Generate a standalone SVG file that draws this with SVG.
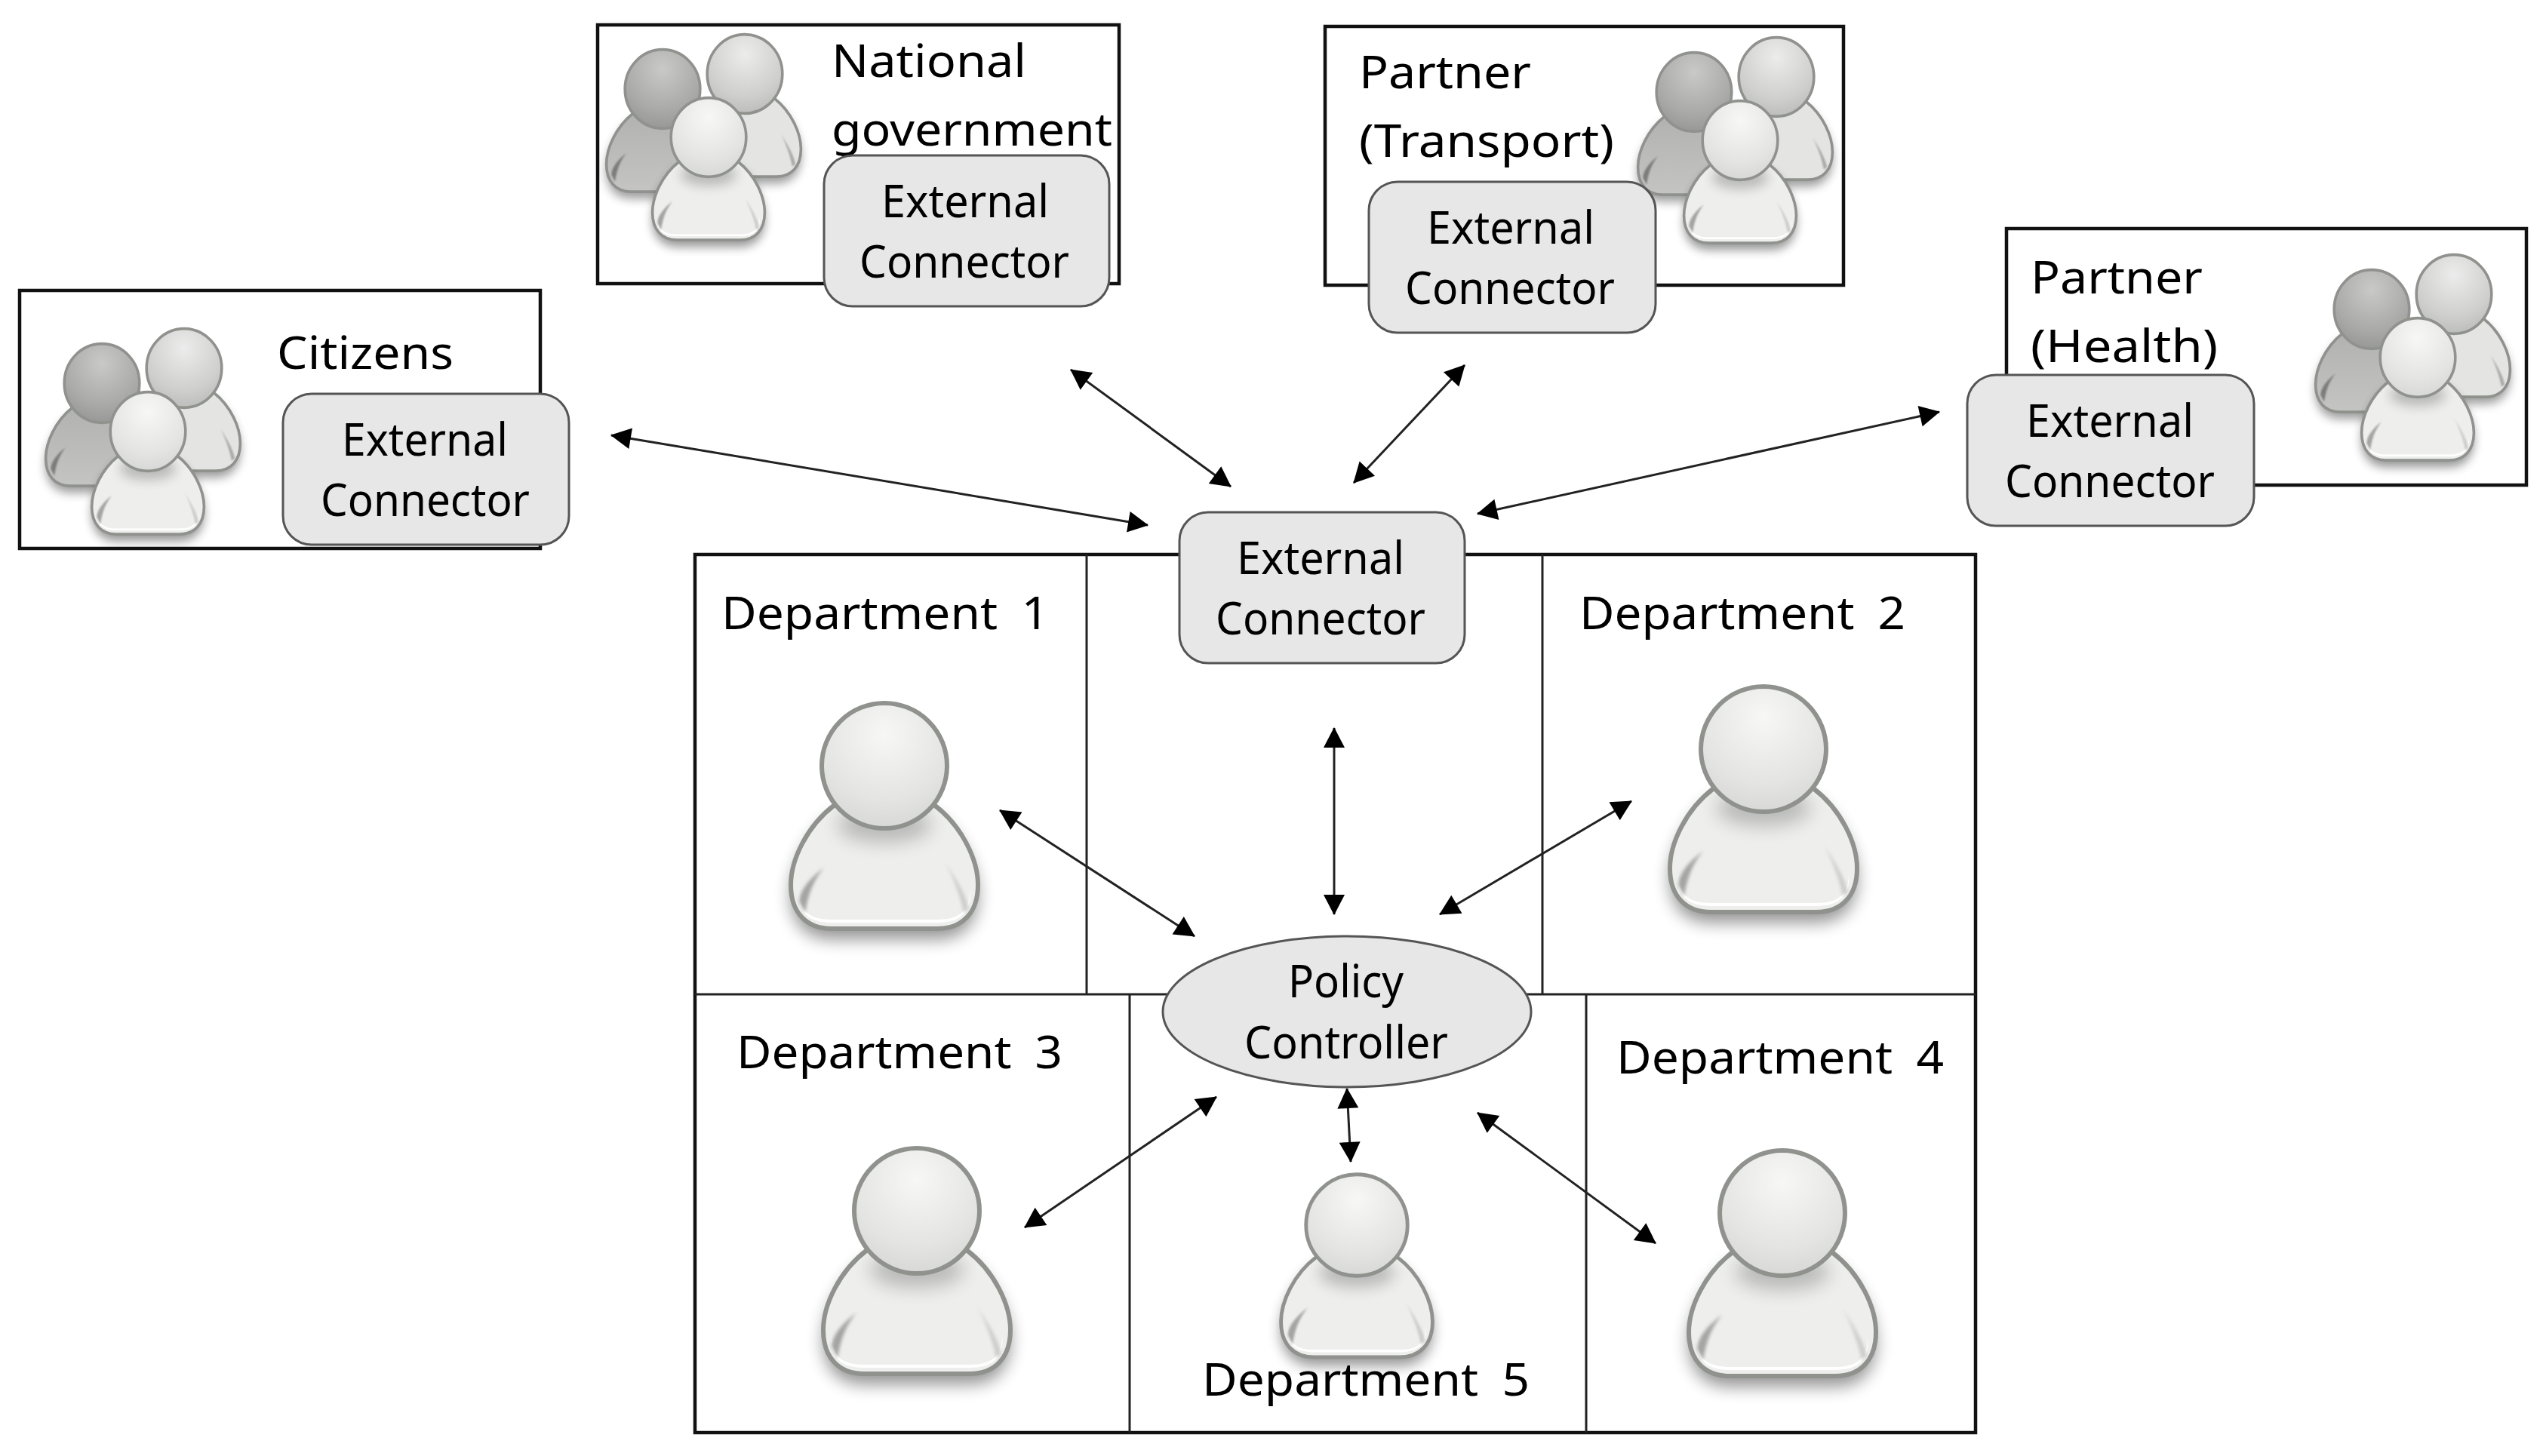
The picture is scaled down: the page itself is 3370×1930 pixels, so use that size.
<svg xmlns="http://www.w3.org/2000/svg" xmlns:xlink="http://www.w3.org/1999/xlink" width="3370" height="1930" viewBox="0 0 3370 1930">
<style>
text{font-family:"Noto Sans","Open Sans","Liberation Sans",sans-serif;fill:#000;font-size:61px}
.dept{word-spacing:14px}
.frame{fill:#fff;stroke:#111;stroke-width:4.5}
.part{fill:none;stroke:#222;stroke-width:3}
.conn{fill:#e7e7e7;stroke:#555;stroke-width:3}
.arrow{fill:none;stroke:#222;stroke-width:3;marker-start:url(#tip);marker-end:url(#tip)}
</style>
<defs>
<marker id="tip" markerUnits="userSpaceOnUse" markerWidth="30" markerHeight="30" viewBox="0 0 30 30" refX="27" refY="15" orient="auto-start-reverse"><path d="M1 1L28 15L1 29Z" fill="#000"/></marker>
<filter id="soft" x="-30%" y="-30%" width="160%" height="160%"><feGaussianBlur stdDeviation="11"/></filter>
<filter id="soft2" x="-40%" y="-80%" width="180%" height="260%"><feGaussianBlur stdDeviation="12"/></filter>
<filter id="soft3" x="-60%" y="-30%" width="220%" height="160%"><feGaussianBlur stdDeviation="2"/></filter>
<radialGradient id="hl" cx=".5" cy=".25" r=".75"><stop offset="0" stop-color="#f7f7f6"/><stop offset=".7" stop-color="#e4e5e2"/><stop offset="1" stop-color="#d8d9d6"/></radialGradient>
<radialGradient id="hm" cx=".5" cy=".25" r=".75"><stop offset="0" stop-color="#ececec"/><stop offset=".7" stop-color="#cfcfcd"/><stop offset="1" stop-color="#bdbebb"/></radialGradient>
<radialGradient id="hd" cx=".5" cy=".25" r=".75"><stop offset="0" stop-color="#c9c9c8"/><stop offset=".7" stop-color="#a9a9a7"/><stop offset="1" stop-color="#989896"/></radialGradient>
<linearGradient id="bd" x1="0" y1="0" x2="0" y2="1"><stop offset="0" stop-color="#b2b2b0"/><stop offset="1" stop-color="#c4c4c2"/></linearGradient>
<path id="bodyShape" d="M-66 52C-103 80-124 125-124 158C-124 195-103 216-70 216L70 216C103 216 124 195 124 158C124 125 103 80 66 52Z"/>
<g id="person">
<use href="#bodyShape" transform="translate(0 14)" fill="#000" opacity=".42" filter="url(#soft)"/>
<use href="#bodyShape" fill="#eeefed" stroke="#90928e" stroke-width="6"/>
<path d="M-113 165C-116 195-100 208-70 208L70 208C100 208 116 195 113 165C113 192 100 204 70 204L-70 204C-100 204-113 192-113 165Z" fill="#fff"/>
<path d="M-80 135C-100 150-112 165-113 180L-105 195C-100 165-92 150-80 135Z" fill="#a4a5a2" filter="url(#soft3)"/>
<path d="M80 127C95 150 108 170 112 190L105 195C100 170 90 145 80 127Z" fill="#cdcecb" filter="url(#soft3)"/>
<ellipse cx="0" cy="78" rx="62" ry="24" fill="#000" opacity=".22" filter="url(#soft2)"/>
<circle r="83" fill="url(#hl)" stroke="#90928e" stroke-width="6"/>
</g>
<g id="person-mid">
<use href="#bodyShape" transform="translate(0 14)" fill="#000" opacity=".4" filter="url(#soft)"/>
<use href="#bodyShape" fill="#e4e5e2" stroke="#90928e" stroke-width="6"/>
<path d="M80 127C95 150 108 170 112 190L105 195C100 170 90 145 80 127Z" fill="#a9aaa7" filter="url(#soft3)"/>
<circle r="83" fill="url(#hm)" stroke="#90928e" stroke-width="6"/>
</g>
<g id="person-dark">
<use href="#bodyShape" transform="translate(0 14)" fill="#000" opacity=".4" filter="url(#soft)"/>
<use href="#bodyShape" fill="url(#bd)" stroke="#90928e" stroke-width="6"/>
<path d="M-80 135C-100 150-112 165-113 180L-105 195C-100 165-92 150-80 135Z" fill="#7d7e7b" filter="url(#soft3)"/>
<circle r="83" fill="url(#hd)" stroke="#90928e" stroke-width="6"/>
</g>
<g id="crowd">
<use href="#person-dark" transform="translate(-61 -64) scale(.6 .63)"/>
<use href="#person-mid" transform="translate(48 -84) scale(.6 .63)"/>
<use href="#person" transform="scale(.6 .63)"/>
</g>
</defs>
<rect width="3370" height="1930" fill="#fff"/>

<g id="department-area">
<rect class="frame" x="921" y="735" width="1697" height="1164"/>
<path class="part" d="M1440 735V1318M2044 735V1318M921 1318H2618M1497 1318V1899M2102 1318V1899"/>
</g>

<g id="citizens">
<rect class="frame" x="26" y="385" width="690" height="342"/>
<use href="#crowd" transform="translate(196 572)"/>
<text x="367" y="489" textLength="234" lengthAdjust="spacingAndGlyphs">Citizens</text>
<rect class="conn" x="375" y="522" width="379" height="200" rx="38"/>
<text x="453" y="604" textLength="220" lengthAdjust="spacingAndGlyphs">External</text>
<text x="425" y="684" textLength="277" lengthAdjust="spacingAndGlyphs">Connector</text>
</g>

<g id="national-government">
<rect class="frame" x="792" y="33" width="691" height="343"/>
<use href="#crowd" transform="translate(939 182)"/>
<text x="1102" y="102" textLength="258" lengthAdjust="spacingAndGlyphs">National</text>
<text x="1102" y="193" textLength="372" lengthAdjust="spacingAndGlyphs">government</text>
<rect class="conn" x="1092" y="206" width="378" height="200" rx="38"/>
<text x="1168" y="288" textLength="222" lengthAdjust="spacingAndGlyphs">External</text>
<text x="1139" y="368" textLength="278" lengthAdjust="spacingAndGlyphs">Connector</text>
</g>

<g id="partner-transport">
<rect class="frame" x="1756" y="35" width="687" height="343"/>
<use href="#crowd" transform="translate(2306 186)"/>
<text x="1801" y="117" textLength="228" lengthAdjust="spacingAndGlyphs">Partner</text>
<text x="1801" y="208" textLength="338" lengthAdjust="spacingAndGlyphs">(Transport)</text>
<rect class="conn" x="1814" y="241" width="380" height="200" rx="38"/>
<text x="1891" y="323" textLength="222" lengthAdjust="spacingAndGlyphs">External</text>
<text x="1862" y="403" textLength="278" lengthAdjust="spacingAndGlyphs">Connector</text>
</g>

<g id="partner-health">
<rect class="frame" x="2659" y="303" width="689" height="340"/>
<use href="#crowd" transform="translate(3204 474)"/>
<text x="2691" y="389" textLength="228" lengthAdjust="spacingAndGlyphs">Partner</text>
<text x="2691" y="480" textLength="248" lengthAdjust="spacingAndGlyphs">(Health)</text>
<rect class="conn" x="2607" y="497" width="380" height="200" rx="38"/>
<text x="2685" y="579" textLength="222" lengthAdjust="spacingAndGlyphs">External</text>
<text x="2657" y="659" textLength="278" lengthAdjust="spacingAndGlyphs">Connector</text>
</g>

<g id="department-1">
<text class="dept" x="956" y="834" textLength="434" lengthAdjust="spacingAndGlyphs">Department 1</text>
<use href="#person" transform="translate(1172 1015)"/>
</g>
<g id="department-2">
<text class="dept" x="2093" y="834" textLength="432" lengthAdjust="spacingAndGlyphs">Department 2</text>
<use href="#person" transform="translate(2337 993)"/>
</g>
<g id="department-3">
<text class="dept" x="976" y="1416" textLength="432" lengthAdjust="spacingAndGlyphs">Department 3</text>
<use href="#person" transform="translate(1215 1605)"/>
</g>
<g id="department-4">
<text class="dept" x="2142" y="1423" textLength="434" lengthAdjust="spacingAndGlyphs">Department 4</text>
<use href="#person" transform="translate(2362 1608)"/>
</g>
<g id="department-5">
<use href="#person" transform="translate(1798 1624) scale(.81)"/>
<text class="dept" x="1593" y="1850" textLength="434" lengthAdjust="spacingAndGlyphs">Department 5</text>
</g>

<g id="connectors">
<line class="arrow" x1="810" y1="577" x2="1521" y2="696"/>
<line class="arrow" x1="1419" y1="490" x2="1631" y2="645"/>
<line class="arrow" x1="1941" y1="484" x2="1794" y2="640"/>
<line class="arrow" x1="2570" y1="546" x2="1958" y2="681"/>
<line class="arrow" x1="1768" y1="965" x2="1768" y2="1212"/>
<line class="arrow" x1="1325" y1="1074" x2="1583" y2="1241"/>
<line class="arrow" x1="2162" y1="1062" x2="1908" y2="1212"/>
<line class="arrow" x1="1612" y1="1454" x2="1358" y2="1627"/>
<line class="arrow" x1="1958" y1="1475" x2="2194" y2="1648"/>
<line class="arrow" x1="1785" y1="1443" x2="1790" y2="1540"/>
</g>

<g id="external-connector">
<rect class="conn" x="1563" y="679" width="378" height="200" rx="38"/>
<text x="1639" y="761" textLength="222" lengthAdjust="spacingAndGlyphs">External</text>
<text x="1611" y="841" textLength="278" lengthAdjust="spacingAndGlyphs">Connector</text>
</g>
<g id="policy-controller">
<ellipse class="conn" cx="1785" cy="1341" rx="244" ry="100"/>
<text x="1707" y="1322" textLength="153" lengthAdjust="spacingAndGlyphs">Policy</text>
<text x="1649" y="1403" textLength="270" lengthAdjust="spacingAndGlyphs">Controller</text>
</g>
</svg>
